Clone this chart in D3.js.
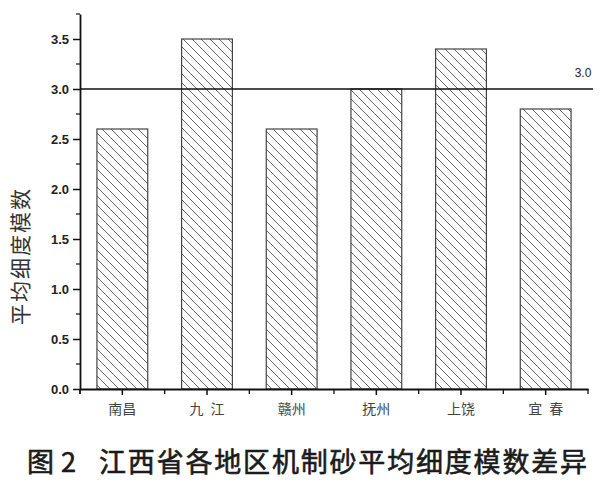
<!DOCTYPE html>
<html><head><meta charset="utf-8">
<script src="https://cdn.jsdelivr.net/npm/d3@7"></script>
<style>body{margin:0;background:#fff}svg{display:block}</style>
</head><body>
<script>
const categories = ["南昌","九\u2002江","赣州","抚州","上饶","宜\u2002春"];
const values = [2.6, 3.5, 2.6, 3.0, 3.4, 2.8];
const yTicks = [0, 0.5, 1.0, 1.5, 2.0, 2.5, 3.0, 3.5];
const refValue = 3.0;
const yLabel = "平均细度模数";
const titleFig = "图";
const titleNum = "2";
const titleText = "江西省各地区机制砂平均细度模数差异";

const W = 600, H = 483;
const svg = d3.select("body").append("svg").attr("width", W).attr("height", H);

const x = d3.scaleBand().domain(categories).range([80, 588]).paddingInner(0.4).paddingOuter(0.2);
const y = d3.scaleLinear().domain([0, 3.75]).range([389, 14]);

const defs = svg.append("defs");
const pat = defs.append("pattern").attr("id","hatch").attr("patternUnits","userSpaceOnUse")
  .attr("width", 9).attr("height", 9);
pat.append("rect").attr("width",9).attr("height",9).attr("fill","#fff");
pat.append("path").attr("d","M-1,-1 L10,10 M-10,-1 L1,10 M8,-1 L19,10").attr("stroke","#666").attr("stroke-width",1);

// bars
svg.append("g").selectAll("rect").data(values).join("rect")
  .attr("x", (d,i)=>x(categories[i]))
  .attr("y", d=>y(d))
  .attr("width", x.bandwidth())
  .attr("height", d=>y(0)-y(d))
  .attr("fill","url(#hatch)")
  .attr("stroke","#444").attr("stroke-width",1.2);

// reference line
svg.append("line").attr("x1",80).attr("x2",593).attr("y1",y(refValue)).attr("y2",y(refValue))
  .attr("stroke","#111").attr("stroke-width",1.6);
svg.append("text").attr("x",583).attr("y",y(refValue)-12).attr("text-anchor","middle")
  .attr("font-family","Arial, Liberation Sans").attr("font-size",12).attr("fill","#222").text(refValue.toFixed(1));

// y axis
const yAxis = svg.append("g").attr("transform","translate(80,0)")
  .call(d3.axisLeft(y).tickValues(yTicks).tickFormat(d3.format(".1f")).tickSize(7).tickSizeOuter(0).tickPadding(4));
yAxis.select(".domain").attr("stroke","#111").attr("stroke-width",1.8);
yAxis.selectAll(".tick line").attr("stroke","#111").attr("stroke-width",1.5);
yAxis.selectAll(".tick text").attr("font-family","Arial, Liberation Sans").attr("font-weight","bold")
  .attr("font-size",13).attr("fill","#222");
const yMinor = d3.range(0.25, 3.8, 0.5);
svg.append("g").selectAll("line").data(yMinor).join("line")
  .attr("x1",76).attr("x2",80).attr("y1",d=>y(d)).attr("y2",d=>y(d))
  .attr("stroke","#111").attr("stroke-width",1.2);
svg.append("line").attr("x1",80).attr("x2",80).attr("y1",389).attr("y2",394).attr("stroke","#111").attr("stroke-width",1.8);

// x axis
const xAxis = svg.append("g").attr("transform","translate(0,389)")
  .call(d3.axisBottom(x).tickSize(6).tickSizeOuter(0).tickPadding(9));
xAxis.select(".domain").attr("stroke","#111").attr("stroke-width",1.8);
xAxis.selectAll(".tick line").attr("stroke","#111").attr("stroke-width",1.5);
xAxis.selectAll(".tick text").attr("font-family","Noto Sans CJK SC").attr("font-size",14).attr("fill","#444");
const step = x.step();
const x0 = x(categories[0]) - x.paddingOuter()*step;
const xMinor = d3.range(1, categories.length + 1).map(i => x0 + i*step);
svg.append("g").selectAll("line").data(xMinor).join("line")
  .attr("x1",d=>d).attr("x2",d=>d).attr("y1",389).attr("y2",394)
  .attr("stroke","#111").attr("stroke-width",1.3);

// y label
svg.append("text").attr("transform","translate(28,256) rotate(-90)").attr("text-anchor","middle")
  .attr("font-family","Noto Sans CJK SC").attr("font-size",21).attr("letter-spacing",2).attr("fill","#333").text(yLabel);

// title
const t = svg.append("text").attr("y",472).attr("font-family","Noto Sans CJK SC").attr("font-weight","normal")
  .attr("font-size",27).attr("fill","#1a1a1a").attr("stroke","#1a1a1a").attr("stroke-width",0.6);
t.append("tspan").attr("x",27).text(titleFig);
t.append("tspan").attr("x",61).text(titleNum);
t.append("tspan").attr("x",99).attr("textLength",488).attr("lengthAdjust","spacing").text(titleText);
</script>
</body></html>
